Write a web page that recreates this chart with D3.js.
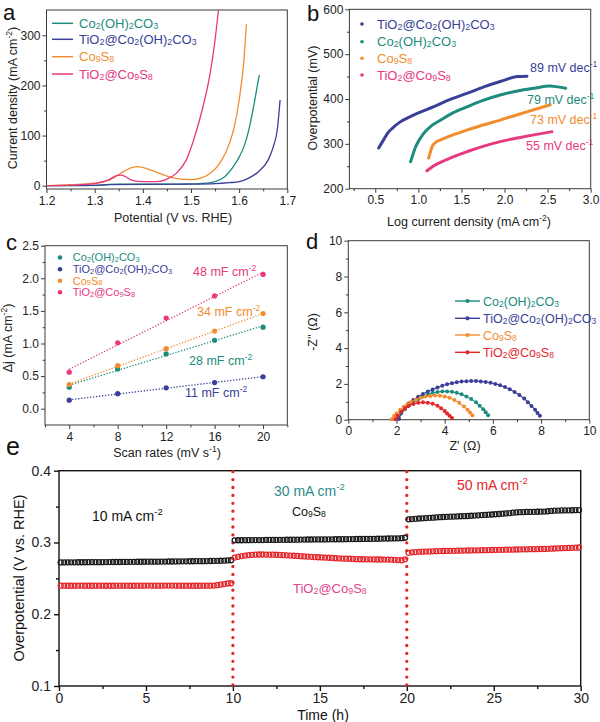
<!DOCTYPE html>
<html><head><meta charset="utf-8">
<script src="https://cdn.jsdelivr.net/npm/d3@7"></script>
<style>body{margin:0;background:#fff}svg{display:block}</style>
</head><body><svg id="c" width="600" height="722"></svg>
<script>
// ---------------- DATA ----------------
const seriesNames = ["Co_{2}(OH)_{2}CO_{3}", "TiO_{2}@Co_{2}(OH)_{2}CO_{3}", "Co_{9}S_{8}", "TiO_{2}@Co_{9}S_{8}"];

// (a) LSV curves: potential (V vs RHE) and current density (mA cm-2)
const lsvTealX = [1.2,1.25,1.3,1.33,1.35,1.4,1.45,1.5,1.53,1.55,1.57,1.59,1.6,1.61,1.62,1.63,1.64,1.642];
const lsvTealY = [0,0,0.5,2.5,3,3,3,3.5,5,8,18,41,57,78,111,158,211,221];
const lsvBlueX = [1.2,1.3,1.33,1.4,1.5,1.55,1.58,1.6,1.62,1.64,1.66,1.67,1.68,1.685];
const lsvBlueY = [0,0.5,2,2.5,3,4,6,8,15,28,51,75,118,171];
const lsvOrangeX = [1.2,1.25,1.3,1.33,1.36,1.38,1.39,1.42,1.45,1.48,1.5,1.52,1.54,1.56,1.58,1.59,1.6,1.61,1.615];
const lsvOrangeY = [0,2,5,11,28,37,38,30,19,13,12,15,25,45,85,118,171,251,322];
const lsvPinkX = [1.2,1.25,1.3,1.33,1.345,1.355,1.38,1.4,1.43,1.45,1.47,1.49,1.51,1.525,1.54,1.55,1.557];
const lsvPinkY = [0,1,4,12,20,21,10,8,8,13,25,51,105,158,225,291,350];
const aXTicks = [1.2,1.3,1.4,1.5,1.6,1.7];
const aYTicks = [0,100,200,300];

// (b) Tafel: log current density vs overpotential (mV)
const tafBlueX = [0.54,0.6,0.64,0.7,0.79,0.9,1.0,1.18,1.37,1.57,1.76,1.95,2.15,2.26];
const tafBlueY = [291,310,323,335,349,360,369,383,399,413,427,439,450,451];
const tafTealX = [0.91,0.97,1.06,1.15,1.26,1.4,1.57,1.75,1.95,2.15,2.34,2.53,2.62,2.71];
const tafTealY = [260,294,323,340,353,369,383,397,409,418,424,429,427,424];
const tafOrangeX = [1.12,1.16,1.2,1.26,1.4,1.57,1.75,1.95,2.15,2.34,2.53];
const tafOrangeY = [268,294,303,309,320,331,342,353,365,376,387];
const tafPinkX = [1.1,1.18,1.27,1.37,1.47,1.57,1.76,1.95,2.15,2.34,2.55];
const tafPinkY = [240,251,260,268,276,283,295,305,313,320,327];
const bXTicks = [0.5,1.0,1.5,2.0,2.5,3.0];
const bYTicks = [200,300,400,500,600];
const tafelSlopes = ["89 mV dec^{-1}","79 mV dec^{-1}","73 mV dec^{-1}","55 mV dec^{-1}"];

// (c) double-layer capacitance
const scanRates = [4,8,12,16,20];
const djTeal = [0.33,0.61,0.84,1.05,1.25];
const djBlue = [0.13,0.23,0.32,0.40,0.49];
const djOrange = [0.37,0.66,0.92,1.19,1.46];
const djPink = [0.56,1.01,1.39,1.73,2.06];
const cdlLabels = ["28 mF cm^{-2}","11 mF cm^{-2}","34 mF cm^{-2}","48 mF cm^{-2}"];
const cXTicks = [4,8,12,16,20];
const cYTicks = [0,0.5,1.0,1.5,2.0,2.5];

// (d) Nyquist: Z' and -Z''
const nyqTealX = [2.1,2.2,2.35,2.5,2.7,2.9,3.1,3.3,3.5,3.7,3.9,4.1,4.3,4.5,4.7,4.9,5.1,5.3,5.45,5.6,5.7,5.8];
const nyqTealY = [0.05,0.35,0.58,0.78,0.98,1.15,1.3,1.41,1.5,1.55,1.58,1.58,1.56,1.5,1.42,1.3,1.15,0.97,0.78,0.58,0.42,0.25];
const nyqBlueX = [2.1,2.2,2.35,2.5,2.7,2.9,3.1,3.3,3.5,3.7,3.9,4.1,4.3,4.5,4.7,4.9,5.1,5.3,5.5,5.7,5.9,6.1,6.3,6.5,6.7,6.9,7.1,7.3,7.45,7.6,7.75,7.85,7.95];
const nyqBlueY = [0.05,0.45,0.7,0.9,1.1,1.28,1.43,1.57,1.69,1.8,1.9,1.98,2.04,2.09,2.13,2.15,2.16,2.16,2.14,2.11,2.06,2.0,1.92,1.82,1.7,1.55,1.38,1.18,0.98,0.77,0.56,0.38,0.22];
const nyqOrangeX = [1.8,1.9,2.0,2.15,2.3,2.45,2.6,2.8,3.0,3.2,3.4,3.6,3.8,4.0,4.2,4.4,4.6,4.8,4.95,5.05,5.15];
const nyqOrangeY = [0.02,0.2,0.35,0.55,0.72,0.87,0.99,1.12,1.22,1.29,1.33,1.35,1.34,1.3,1.22,1.1,0.94,0.74,0.55,0.4,0.25];
const nyqRedX = [1.95,2.05,2.2,2.35,2.5,2.7,2.9,3.1,3.3,3.5,3.7,3.85,4.0,4.1,4.2,4.3];
const nyqRedY = [0.02,0.22,0.45,0.62,0.76,0.88,0.95,0.97,0.95,0.89,0.78,0.64,0.48,0.34,0.22,0.1];
const dTicks = [0,2,4,6,8,10];

// (e) chronopotentiometry at 10 / 30 / 50 mA cm-2
const stepCurrents = ["10 mA cm^{-2}","30 mA cm^{-2}","50 mA cm^{-2}"];
const stepBounds = [10,20];
const co9s8Seg1 = [0.2722,0.2722,0.2723,0.2723,0.2723,0.2724,0.2724,0.2724,0.2725,0.2725,0.2726,0.2726,0.2726,0.2727,0.2727,0.2728,0.2728,0.2728,0.2729,0.2729,0.2730,0.2730,0.2731,0.2731,0.2731,0.2732,0.2732,0.2733,0.2733,0.2734,0.2734,0.2735,0.2735,0.2736,0.2736,0.2737,0.2737,0.2738,0.2738,0.2739,0.2740,0.2740,0.2741,0.2742,0.2743,0.2744,0.2745,0.2747,0.2750,0.2752];
const co9s8Seg2 = [0.3030,0.3031,0.3031,0.3032,0.3032,0.3033,0.3033,0.3034,0.3034,0.3035,0.3035,0.3036,0.3036,0.3037,0.3037,0.3038,0.3038,0.3039,0.3039,0.3040,0.3040,0.3041,0.3041,0.3042,0.3042,0.3043,0.3043,0.3044,0.3044,0.3045,0.3045,0.3046,0.3046,0.3047,0.3047,0.3048,0.3048,0.3049,0.3050,0.3050,0.3051,0.3052,0.3053,0.3054,0.3055,0.3056,0.3057,0.3058,0.3060,0.3066];
const co9s8Seg3 = [0.3322,0.3326,0.3330,0.3334,0.3337,0.3340,0.3343,0.3346,0.3349,0.3352,0.3355,0.3357,0.3359,0.3361,0.3363,0.3365,0.3367,0.3369,0.3372,0.3375,0.3378,0.3381,0.3384,0.3387,0.3390,0.3393,0.3397,0.3401,0.3405,0.3410,0.3415,0.3419,0.3422,0.3424,0.3425,0.3426,0.3427,0.3428,0.3429,0.3430,0.3435,0.3440,0.3443,0.3445,0.3446,0.3447,0.3448,0.3449,0.3450,0.3451];
const tiSeg1 = [0.2398,0.2398,0.2397,0.2397,0.2397,0.2398,0.2398,0.2397,0.2397,0.2397,0.2398,0.2398,0.2398,0.2397,0.2397,0.2397,0.2398,0.2398,0.2398,0.2398,0.2397,0.2397,0.2398,0.2398,0.2398,0.2399,0.2399,0.2398,0.2398,0.2398,0.2399,0.2399,0.2399,0.2398,0.2398,0.2398,0.2398,0.2397,0.2397,0.2397,0.2397,0.2398,0.2398,0.2398,0.2400,0.2405,0.2412,0.2420,0.2428,0.2432];
const tiSeg2 = [0.2790,0.2800,0.2810,0.2818,0.2824,0.2828,0.2830,0.2832,0.2832,0.2831,0.2830,0.2830,0.2829,0.2827,0.2824,0.2821,0.2818,0.2815,0.2812,0.2809,0.2806,0.2803,0.2800,0.2797,0.2794,0.2792,0.2790,0.2787,0.2784,0.2780,0.2777,0.2775,0.2774,0.2773,0.2770,0.2767,0.2766,0.2766,0.2765,0.2765,0.2764,0.2763,0.2763,0.2762,0.2761,0.2760,0.2758,0.2755,0.2752,0.2765];
const tiSeg3 = [0.2855,0.2862,0.2866,0.2869,0.2871,0.2873,0.2875,0.2877,0.2878,0.2880,0.2881,0.2882,0.2883,0.2884,0.2885,0.2886,0.2887,0.2888,0.2889,0.2890,0.2891,0.2892,0.2893,0.2894,0.2895,0.2896,0.2897,0.2898,0.2899,0.2900,0.2901,0.2902,0.2903,0.2904,0.2905,0.2906,0.2907,0.2908,0.2909,0.2910,0.2912,0.2914,0.2916,0.2918,0.2920,0.2922,0.2924,0.2926,0.2928,0.2930];
const eXTicks = [0,5,10,15,20,25,30];
const eYTicks = [0.1,0.2,0.3,0.4];

// ---------------- DRAW ----------------
const FONT = "'Liberation Sans', Arial, sans-serif";
const C = {teal:"#1d8b7e", blue:"#3a3f98", orange:"#f28d2f", pink:"#e6397f", red:"#e4262b", axis:"#3a3a3a"};
const svg = d3.select("#c");
svg.append("rect").attr("width",600).attr("height",722).attr("fill","#fff");

function rich(sel, str, fs) {
  const re = /([_^])\{([^}]*)\}/g; let last = 0, m; const parts = [];
  while ((m = re.exec(str))) {
    if (m.index > last) parts.push({t:str.slice(last,m.index),k:""});
    parts.push({t:m[2],k:m[1]}); last = re.lastIndex;
  }
  if (last < str.length) parts.push({t:str.slice(last),k:""});
  let cur = 0;
  parts.forEach(p => {
    const target = p.k==="_" ? fs*0.08 : p.k==="^" ? -fs*0.4 : 0;
    sel.append("tspan").text(p.t).attr("dy", target-cur).attr("font-size", p.k ? fs*0.68 : fs);
    cur = target;
  });
  return sel;
}
function label(g, x, y, str, o={}) {
  const t = g.append("text").attr("x",x).attr("y",y).attr("font-family",FONT)
    .attr("fill", o.fill||"#222").attr("text-anchor", o.anchor||"start");
  if (o.rotate) t.attr("transform",`rotate(-90,${x},${y})`);
  rich(t, str, o.fs||12);
  return t;
}
function axes(g, x, y, o) {
  const [x0,x1] = x.range(), [y0,y1] = y.range();
  const sw = o.sw||1, col = o.col||C.axis;
  const bx = g.append("g").attr("transform",`translate(0,${y0})`)
    .call(d3.axisBottom(x).tickValues(o.xt).tickFormat(o.xf).tickSize(o.tl||4).tickSizeOuter(0).tickPadding(o.pad||2));
  const bxm = g.append("g").attr("transform",`translate(0,${y0})`)
    .call(d3.axisBottom(x).tickValues(o.xm).tickFormat("").tickSize((o.tl||4)*0.6).tickSizeOuter(0));
  const ly = g.append("g").attr("transform",`translate(${x0},0)`)
    .call(d3.axisLeft(y).tickValues(o.yt).tickFormat(o.yf).tickSize(o.tl||4).tickSizeOuter(0).tickPadding(o.ypad||2));
  const lym = g.append("g").attr("transform",`translate(${x0},0)`)
    .call(d3.axisLeft(y).tickValues(o.ym).tickFormat("").tickSize((o.tl||4)*0.6).tickSizeOuter(0));
  [bx,bxm,ly,lym].forEach(a => {
    a.select(".domain").remove();
    a.selectAll("line").attr("stroke",col).attr("stroke-width",sw);
    a.selectAll("text").attr("font-family",FONT).attr("font-size",o.fs||12).attr("fill","#222");
  });
  g.append("rect").attr("x",x0).attr("y",y1).attr("width",x1-x0).attr("height",y0-y1)
    .attr("fill","none").attr("stroke",col).attr("stroke-width",sw);
}
function clip(id, x, y) {
  const [x0,x1] = x.range(), [y0,y1] = y.range();
  svg.append("clipPath").attr("id",id).append("rect").attr("x",x0).attr("y",y1).attr("width",x1-x0).attr("height",y0-y1);
  return `url(#${id})`;
}
const zip = (a,b) => a.map((v,i)=>[v,b[i]]);

// ===== (a) =====
{
  const g = svg.append("g");
  const x = d3.scaleLinear().domain([1.2,1.7]).range([46.5,287.3]);
  const y = d3.scaleLinear().domain([-6.6,350.5]).range([189,10]);
  axes(g, x, y, {xt:aXTicks, xm:d3.range(1.25,1.7,0.1), xf:d3.format(".1f"), yt:aYTicks, ym:[50,150,250], yf:d3.format("d"), pad:3, ypad:2});
  const line = d3.line().x(d=>x(d[0])).y(d=>y(d[1])).curve(d3.curveMonotoneX);
  const cp = clip("ca", x, y);
  const sets = [[lsvTealX,lsvTealY,C.teal],[lsvBlueX,lsvBlueY,C.blue],[lsvOrangeX,lsvOrangeY,C.orange],[lsvPinkX,lsvPinkY,C.pink]];
  sets.forEach(s => g.append("path").attr("d",line(zip(s[0],s[1]))).attr("fill","none").attr("stroke",s[2]).attr("stroke-width",1.3).attr("clip-path",cp));
  const lc = [C.teal,C.blue,C.orange,C.pink], rows=[23.3,39.3,56.7,74];
  seriesNames.forEach((n,i)=>{
    g.append("line").attr("x1",52).attr("x2",73).attr("y1",rows[i]).attr("y2",rows[i]).attr("stroke",lc[i]).attr("stroke-width",1.5);
    label(g, 79, rows[i]+4.5, n, {fill:lc[i], fs:13});
  });
  label(g, 173, 222, "Potential  (V vs. RHE)", {anchor:"middle", fs:12.5});
  label(g, 17, 98, "Current density (mA cm^{-2})", {anchor:"middle", fs:12.5, rotate:true});
  label(g, 3, 20, "a", {fs:22, fill:"#111"});
}

// ===== (b) =====
{
  const g = svg.append("g");
  const x = d3.scaleLinear().domain([0.2,3.0]).range([349.4,590.7]);
  const y = d3.scaleLinear().domain([200,600]).range([188.7,9.3]);
  axes(g, x, y, {xt:bXTicks, xm:[0.25,0.75,1.25,1.75,2.25,2.75], xf:d3.format(".1f"), yt:bYTicks, ym:[250,350,450,550], yf:d3.format("d"), pad:3});
  const line = d3.line().x(d=>x(d[0])).y(d=>y(d[1])).curve(d3.curveMonotoneX);
  const sets = [[tafBlueX,tafBlueY,C.blue],[tafTealX,tafTealY,C.teal],[tafOrangeX,tafOrangeY,C.orange],[tafPinkX,tafPinkY,C.pink]];
  sets.forEach(s => g.append("path").attr("d",line(zip(s[0],s[1]))).attr("fill","none").attr("stroke",s[2]).attr("stroke-width",3).attr("stroke-linecap","round"));
  const names = [seriesNames[1],seriesNames[0],seriesNames[2],seriesNames[3]];
  const lc = [C.blue,C.teal,C.orange,C.pink], rows=[24,41.7,58.3,75];
  names.forEach((n,i)=>{
    g.append("circle").attr("cx",362).attr("cy",rows[i]).attr("r",1.8).attr("fill",lc[i]);
    label(g, 377, rows[i]+4.5, n, {fill:lc[i], fs:13});
  });
  const sl = [[530,72],[527,104],[530,124],[526,150]];
  tafelSlopes.forEach((t,i)=>label(g, sl[i][0], sl[i][1], t, {fill:lc[i], fs:12.5}));
  label(g, 469, 226, "Log current density (mA cm^{-2})", {anchor:"middle", fs:12.5});
  label(g, 317, 98, "Overpotential (mV)", {anchor:"middle", fs:12.5, rotate:true});
  label(g, 307, 21, "b", {fs:22, fill:"#111"});
}

// ===== (c) =====
{
  const g = svg.append("g");
  const x = d3.scaleLinear().domain([2,22]).range([45,287.3]);
  const y = d3.scaleLinear().domain([-0.25,2.5]).range([425,245.7]);
  axes(g, x, y, {xt:cXTicks, xm:[2,6,10,14,18,22], xf:d3.format("d"), yt:cYTicks, ym:[0.25,0.75,1.25,1.75,2.25], yf:d3.format(".1f"), pad:3});
  const sets = [[djTeal,C.teal],[djBlue,C.blue],[djOrange,C.orange],[djPink,C.pink]];
  sets.forEach((s,k)=>{
    const mx = d3.mean(scanRates), my = d3.mean(s[0]);
    const slope = d3.sum(scanRates.map((v,i)=>(v-mx)*(s[0][i]-my)))/d3.sum(scanRates.map(v=>(v-mx)**2));
    const b = my - slope*mx;
    g.append("line").attr("x1",x(4)).attr("x2",x(20)).attr("y1",y(slope*4+b)).attr("y2",y(slope*20+b))
      .attr("stroke",s[1]).attr("stroke-width",1.3).attr("stroke-dasharray","1.3 1.7");
  });
  sets.forEach(s => g.selectAll(null).data(zip(scanRates,s[0])).join("circle")
    .attr("cx",d=>x(d[0])).attr("cy",d=>y(d[1])).attr("r",2.6).attr("fill",s[1]));
  const lc = [C.teal,C.blue,C.orange,C.pink], rows=[257.5,269.3,280.8,292.3];
  seriesNames.forEach((n,i)=>{
    g.append("circle").attr("cx",60).attr("cy",rows[i]).attr("r",2.3).attr("fill",lc[i]);
    label(g, 72.7, rows[i]+3.8, n, {fill:lc[i], fs:11});
  });
  const cl = [[189,365],[185,397],[197,316],[193,276]];
  cdlLabels.forEach((t,i)=>label(g, cl[i][0], cl[i][1], t, {fill:lc[i], fs:12.5}));
  label(g, 167, 457, "Scan rates (mV s^{-1})", {anchor:"middle", fs:12.5});
  label(g, 12, 338, "Δj (mA cm^{-2})", {anchor:"middle", fs:12.5, rotate:true});
  label(g, 6, 250, "c", {fs:22, fill:"#111"});
  label(g, 6, 455, "e", {fs:25, fill:"#111"});
}

// ===== (d) =====
{
  const g = svg.append("g");
  const x = d3.scaleLinear().domain([0,10]).range([348.3,589.3]);
  const y = d3.scaleLinear().domain([0,10]).range([419.7,240.7]);
  axes(g, x, y, {xt:dTicks, xm:[1,3,5,7,9], xf:d3.format("d"), yt:dTicks, ym:[1,3,5,7,9], yf:d3.format("d"), pad:3});
  const line = d3.line().x(d=>x(d[0])).y(d=>y(d[1]));
  const sets = [[nyqTealX,nyqTealY,C.teal],[nyqBlueX,nyqBlueY,C.blue],[nyqOrangeX,nyqOrangeY,C.orange],[nyqRedX,nyqRedY,C.red]];
  sets.forEach(s => {
    const pts = zip(s[0],s[1]);
    g.append("path").attr("d",line(pts)).attr("fill","none").attr("stroke",s[2]).attr("stroke-width",1.1);
    g.selectAll(null).data(pts).join("circle").attr("cx",d=>x(d[0])).attr("cy",d=>y(d[1])).attr("r",2).attr("fill",s[2]);
  });
  const lc = [C.teal,C.blue,C.orange,C.red], rows=[301,318.3,335,352.3];
  seriesNames.forEach((n,i)=>{
    g.append("line").attr("x1",455).attr("x2",480).attr("y1",rows[i]).attr("y2",rows[i]).attr("stroke",lc[i]).attr("stroke-width",1.4);
    g.append("circle").attr("cx",467.5).attr("cy",rows[i]).attr("r",2.1).attr("fill",lc[i]);
    label(g, 483, rows[i]+4.5, n, {fill:lc[i], fs:12.5});
  });
  label(g, 465, 450, "Z' (Ω)", {anchor:"middle", fs:12.5});
  label(g, 317, 332, "-Z'' (Ω)", {anchor:"middle", fs:12.5, rotate:true});
  label(g, 306, 249, "d", {fs:22, fill:"#111"});
}

// ===== (e) =====
{
  const g = svg.append("g");
  const x = d3.scaleLinear().domain([0,30]).range([59,580.7]);
  const y = d3.scaleLinear().domain([0.1,0.4]).range([686,470.7]);
  axes(g, x, y, {xt:eXTicks, xm:[2.5,7.5,12.5,17.5,22.5,27.5], xf:d3.format("d"), yt:eYTicks, ym:[0.15,0.25,0.35], yf:d3.format(".1f"), fs:14, tl:5, pad:2, ypad:3, sw:1.4, col:"#111"});
  const tA = d3.range(0.1,10,0.2), tB = d3.range(10.1,20,0.2), tC = d3.range(20.1,30,0.2);
  const black = [...zip(tA,co9s8Seg1), ...zip(tB,co9s8Seg2), ...zip(tC,co9s8Seg3)];
  const red = [...zip(tA,tiSeg1), ...zip(tB,tiSeg2), ...zip(tC,tiSeg3)];
  stepBounds.forEach(b => g.append("line").attr("x1",x(b)).attr("x2",x(b)).attr("y1",y(0.4)+1).attr("y2",y(0.1))
    .attr("stroke",C.red).attr("stroke-width",3.3).attr("stroke-linecap","round").attr("stroke-dasharray","0 7.9"));
  g.selectAll(null).data(black).join("circle").attr("cx",d=>x(d[0])).attr("cy",d=>y(d[1])).attr("r",2.5)
    .attr("fill","none").attr("stroke","#1a1a1a").attr("stroke-width",1.3);
  g.selectAll(null).data(red).join("circle").attr("cx",d=>x(d[0])).attr("cy",d=>y(d[1])).attr("r",2.5)
    .attr("fill","none").attr("stroke",C.red).attr("stroke-width",1.3);
  label(g, 92, 521, stepCurrents[0], {fs:14, fill:"#111"});
  label(g, 274, 496, stepCurrents[1], {fs:14, fill:"#2b8c8c"});
  label(g, 457, 490, stepCurrents[2], {fs:14, fill:C.red});
  label(g, 292, 516, "Co_{9}S_{8}", {fs:12.5, fill:"#111"});
  label(g, 293, 593, "TiO_{2}@Co_{9}S_{8}", {fs:13, fill:"#e0448c"});
  label(g, 323, 719.5, "Time (h)", {anchor:"middle", fs:14, fill:"#111"});
  label(g, 24, 578, "Overpotential (V vs. RHE)", {anchor:"middle", fs:14.5, rotate:true, fill:"#111"});
}
</script></body></html>
